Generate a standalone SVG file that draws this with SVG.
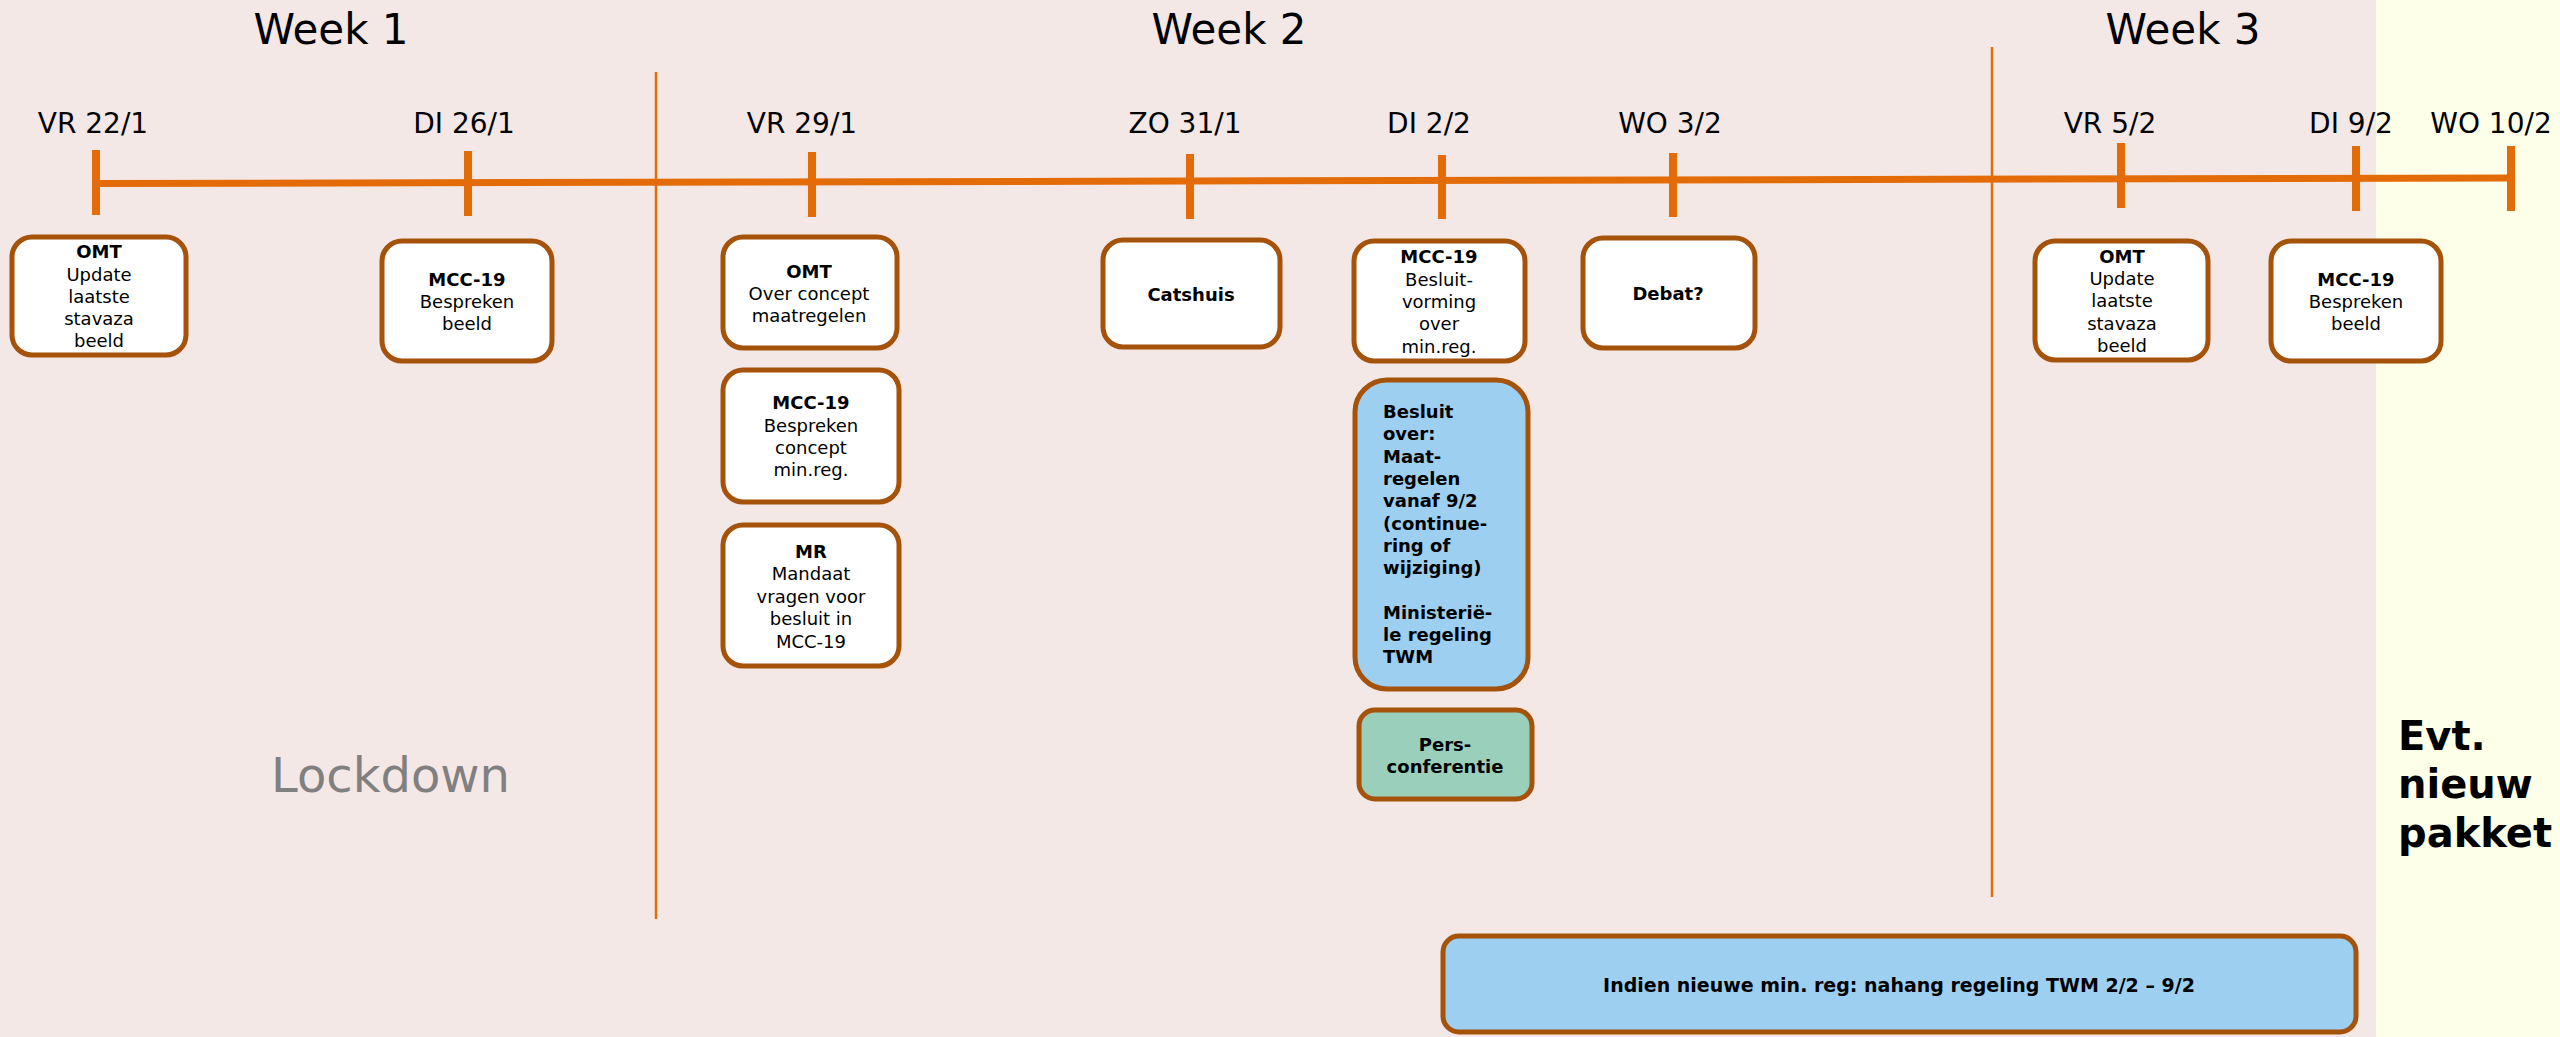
<svg xmlns="http://www.w3.org/2000/svg" width="2560" height="1037" viewBox="0 0 2560 1037">
<style>
text{font-family:"DejaVu Sans","Verdana",sans-serif;fill:#000}
.wk{font-size:42px;text-anchor:middle}
.dt{font-size:28px;text-anchor:middle}
.bx{fill:#fff;stroke:#A5520A;stroke-width:5}
.bl{fill:#9DCFF1;stroke:#A5520A;stroke-width:5}
.gr{fill:#99CFBB;stroke:#A5520A;stroke-width:5}
.t{font-size:18px;text-anchor:middle}
.b{font-weight:bold}
.tick{stroke:#E36C09;stroke-width:8}
.sep{stroke:#E36C09;stroke-width:2.5}
</style>
<rect x="0" y="0" width="2376" height="1037" fill="#F4E8E6"/>
<rect x="2376" y="0" width="184" height="1037" fill="#FDFFE8"/>
<g id="headers">
<text class="wk" x="331" y="44">Week 1</text>
<text class="wk" x="1229" y="44">Week 2</text>
<text class="wk" x="2183" y="44">Week 3</text>
</g>
<g id="dates">
<text class="dt" x="93" y="133">VR 22/1</text>
<text class="dt" x="464" y="133">DI 26/1</text>
<text class="dt" x="802" y="133">VR 29/1</text>
<text class="dt" x="1185" y="133">ZO 31/1</text>
<text class="dt" x="1429" y="133">DI 2/2</text>
<text class="dt" x="1670" y="133">WO 3/2</text>
<text class="dt" x="2110" y="133">VR 5/2</text>
<text class="dt" x="2351" y="133">DI 9/2</text>
<text class="dt" x="2491" y="133">WO 10/2</text>
</g>
<g id="connectors">
<line class="sep" x1="656" y1="72" x2="656" y2="919"/>
<line class="sep" x1="1992" y1="47" x2="1992" y2="897"/>
<line x1="96" y1="183.5" x2="2511" y2="178" stroke="#E36C09" stroke-width="7"/>
<line class="tick" x1="96" y1="150" x2="96" y2="215"/>
<line class="tick" x1="468" y1="151" x2="468" y2="216"/>
<line class="tick" x1="812" y1="152" x2="812" y2="217"/>
<line class="tick" x1="1190" y1="154" x2="1190" y2="219"/>
<line class="tick" x1="1442" y1="155" x2="1442" y2="219"/>
<line class="tick" x1="1673" y1="153" x2="1673" y2="217"/>
<line class="tick" x1="2121" y1="143" x2="2121" y2="208"/>
<line class="tick" x1="2356" y1="146" x2="2356" y2="211"/>
<line class="tick" x1="2511" y1="146" x2="2511" y2="211"/>
</g>
<g id="omt1">
<rect class="bx" x="12" y="237" width="174" height="118" rx="20"/>
<text class="t" x="99"><tspan class="b" x="99" y="258">OMT</tspan><tspan x="99" y="281">Update</tspan><tspan x="99" y="303">laatste</tspan><tspan x="99" y="325">stavaza</tspan><tspan x="99" y="347">beeld</tspan></text>
</g>
<g id="mcc1">
<rect class="bx" x="382" y="241" width="170" height="120" rx="20"/>
<text class="t" x="467"><tspan class="b" x="467" y="286">MCC-19</tspan><tspan x="467" y="308">Bespreken</tspan><tspan x="467" y="330">beeld</tspan></text>
</g>
<g id="omt2">
<rect class="bx" x="723" y="237" width="174" height="111" rx="20"/>
<text class="t" x="809"><tspan class="b" x="809" y="278">OMT</tspan><tspan x="809" y="300">Over concept</tspan><tspan x="809" y="322">maatregelen</tspan></text>
</g>
<g id="mcc2">
<rect class="bx" x="723" y="370" width="176" height="132" rx="20"/>
<text class="t" x="811"><tspan class="b" x="811" y="409">MCC-19</tspan><tspan x="811" y="432">Bespreken</tspan><tspan x="811" y="454">concept</tspan><tspan x="811" y="476">min.reg.</tspan></text>
</g>
<g id="mr">
<rect class="bx" x="723" y="525" width="176" height="141" rx="20"/>
<text class="t" x="811"><tspan class="b" x="811" y="558">MR</tspan><tspan x="811" y="580">Mandaat</tspan><tspan x="811" y="603">vragen voor</tspan><tspan x="811" y="625">besluit in</tspan><tspan x="811" y="648">MCC-19</tspan></text>
</g>
<g id="catshuis">
<rect class="bx" x="1103" y="240" width="177" height="107" rx="20"/>
<text class="t b" x="1191" y="301">Catshuis</text>
</g>
<g id="mcc3">
<rect class="bx" x="1354" y="241" width="171" height="120" rx="20"/>
<text class="t" x="1439"><tspan class="b" x="1439" y="263">MCC-19</tspan><tspan x="1439" y="286">Besluit-</tspan><tspan x="1439" y="308">vorming</tspan><tspan x="1439" y="330">over</tspan><tspan x="1439" y="353">min.reg.</tspan></text>
</g>
<g id="debat">
<rect class="bx" x="1583" y="238" width="172" height="110" rx="20"/>
<text class="t b" x="1668" y="300">Debat?</text>
</g>
<g id="besluit">
<rect class="bl" x="1355" y="380" width="173" height="309" rx="32"/>
<text class="b" style="font-size:18px" x="1383"><tspan x="1383" y="418">Besluit</tspan><tspan x="1383" y="440">over:</tspan><tspan x="1383" y="463">Maat-</tspan><tspan x="1383" y="485">regelen</tspan><tspan x="1383" y="507">vanaf 9/2</tspan><tspan x="1383" y="530">(continue-</tspan><tspan x="1383" y="552">ring of</tspan><tspan x="1383" y="574">wijziging)</tspan><tspan x="1383" y="619">Ministeriё-</tspan><tspan x="1383" y="641">le regeling</tspan><tspan x="1383" y="663">TWM</tspan></text>
</g>
<g id="pers">
<rect class="gr" x="1359" y="710" width="173" height="89" rx="16"/>
<text class="t b" x="1445"><tspan x="1445" y="751">Pers-</tspan><tspan x="1445" y="773">conferentie</tspan></text>
</g>
<g id="omt3">
<rect class="bx" x="2035" y="241" width="173" height="119" rx="20"/>
<text class="t" x="2122"><tspan class="b" x="2122" y="263">OMT</tspan><tspan x="2122" y="285">Update</tspan><tspan x="2122" y="307">laatste</tspan><tspan x="2122" y="330">stavaza</tspan><tspan x="2122" y="352">beeld</tspan></text>
</g>
<g id="mcc4">
<rect class="bx" x="2271" y="241" width="170" height="120" rx="20"/>
<text class="t" x="2356"><tspan class="b" x="2356" y="286">MCC-19</tspan><tspan x="2356" y="308">Bespreken</tspan><tspan x="2356" y="330">beeld</tspan></text>
</g>
<g id="nahang">
<rect class="bl" x="1443" y="936" width="913" height="96" rx="16"/>
<text class="b" style="font-size:19px;text-anchor:middle" x="1899" y="992">Indien nieuwe min. reg: nahang regeling TWM 2/2 – 9/2</text>
</g>
<g id="lockdown">
<text x="271" y="792" style="font-size:48px;fill:#808080">Lockdown</text>
</g>
<g id="pakket">
<text class="b" style="font-size:40px" x="2398"><tspan x="2398" y="750">Evt.</tspan><tspan x="2398" y="798">nieuw</tspan><tspan x="2398" y="847">pakket</tspan></text>
</g>
</svg>
